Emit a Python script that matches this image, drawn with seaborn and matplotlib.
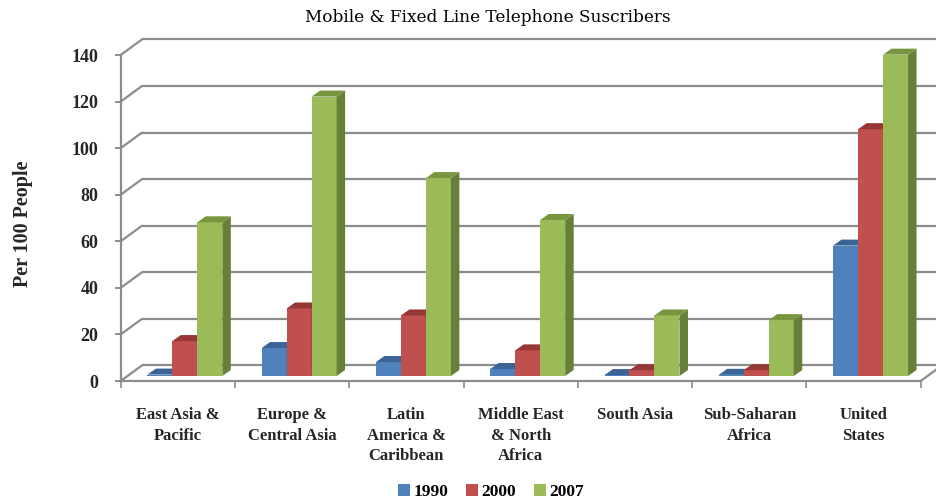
import numpy as np
import pandas as pd
import matplotlib
matplotlib.use("Agg")
import matplotlib.pyplot as plt
import seaborn as sns
from matplotlib.patches import Polygon, Patch
from matplotlib.lines import Line2D
from matplotlib.transforms import ScaledTranslation, IdentityTransform

# ---- data -------------------------------------------------------------
regions = [
    "East Asia &\nPacific",
    "Europe &\nCentral Asia",
    "Latin\nAmerica &\nCaribbean",
    "Middle East\n& North\nAfrica",
    "South Asia",
    "Sub-Saharan\nAfrica",
    "United\nStates",
]
years = ["1990", "2000", "2007"]
subs_1990 = [0.6, 12, 6, 3, 0.4, 0.5, 56]
subs_2000 = [15, 29, 26, 11, 2.5, 2.5, 106]
subs_2007 = [66, 120, 85, 67, 26, 24, 138]
y_ticks = [0, 20, 40, 60, 80, 100, 120, 140]

df = pd.DataFrame({
    "region": regions * 3,
    "year": np.repeat(years, len(regions)),
    "value": subs_1990 + subs_2000 + subs_2007,
})

# ---- style ------------------------------------------------------------
sns.set_theme(style="white")
plt.rcParams["font.family"] = ["Liberation Serif", "DejaVu Serif"]
plt.rcParams["text.color"] = "black"

front_col = ["#4F81BD", "#C0504D", "#9BBB59"]
top_col = ["#3B6395", "#953735", "#789640"]
side_col = ["#385D8A", "#8C3836", "#66803A"]
grid_col = "#8C8C8C"

W, H, DPI = 936, 503, 100
fig = plt.figure(figsize=(W / DPI, H / DPI), dpi=DPI)

# front plane of the 3-D box (pixels)
fx0, fx1 = 120.7, 920.7
fy0, fy1 = 381.0, 55.0
ax = fig.add_axes([fx0 / W, 1 - fy0 / H, (fx1 - fx0) / W, (fy0 - fy1) / H])

sns.barplot(
    data=df, x="region", y="value", hue="year",
    order=regions, hue_order=years, palette=front_col, saturation=1,
    width=0.656, errorbar=None, legend=False, linewidth=0, ax=ax,
)
ax.set_xlim(-0.5, len(regions) - 0.5)
ax.set_ylim(0, 140)

# depth offsets (pixels): wall depth and bar depth
wall_dx, wall_dy = 21.3, 15.6
bar_shift_dx, bar_shift_dy = 7.0, 5.0
bar_dx, bar_dy = 8.5, 6.0

wall_tr = ax.transData + ScaledTranslation(wall_dx / DPI, wall_dy / DPI, fig.dpi_scale_trans)
bar_tr = ax.transData + ScaledTranslation(bar_shift_dx / DPI, bar_shift_dy / DPI, fig.dpi_scale_trans)

# back wall gridlines
ax.hlines(y_ticks, -0.5, len(regions) - 0.5, transform=wall_tr, color=grid_col,
          lw=1.6, zorder=1, clip_on=False)

# side wall diagonals and floor corner
for v in y_ticks:
    px, py = ax.transData.transform((-0.5, v))
    ax.add_line(Line2D([px, px + wall_dx], [py, py + wall_dy], transform=IdentityTransform(),
                       color=grid_col, lw=1.6, zorder=1, clip_on=False))
px, py = ax.transData.transform((len(regions) - 0.5, 0))
ax.add_line(Line2D([px, px + wall_dx], [py, py + wall_dy], transform=IdentityTransform(),
                   color=grid_col, lw=1.6, zorder=1, clip_on=False))

# 3-D bars: shift the front faces back into the box, then add top and side faces
for k, cont in enumerate(ax.containers):
    for bar in cont:
        bar.set_transform(bar_tr)
        bar.set_zorder(3 + k)
        bar.set_clip_on(False)
        x, w, h = bar.get_x(), bar.get_width(), bar.get_height()
        (bx0, by0) = bar_tr.transform((x, 0))
        (bx1, by1) = bar_tr.transform((x + w, h))
        topf = [(bx0, by1), (bx1, by1), (bx1 + bar_dx, by1 + bar_dy), (bx0 + bar_dx, by1 + bar_dy)]
        sidef = [(bx1, by0), (bx1 + bar_dx, by0 + bar_dy), (bx1 + bar_dx, by1 + bar_dy), (bx1, by1)]
        for pts, c in ((sidef, side_col[k]), (topf, top_col[k])):
            ax.add_patch(Polygon(pts, closed=True, transform=IdentityTransform(), facecolor=c,
                                 edgecolor="none", zorder=3 + k, clip_on=False))

# axes, ticks and labels
for s in ("top", "right"):
    ax.spines[s].set_visible(False)
for s in ("left", "bottom"):
    ax.spines[s].set_color(grid_col)
    ax.spines[s].set_linewidth(1.6)
    ax.spines[s].set_zorder(2)

ax.set_yticks(y_ticks)
ax.set_yticklabels([str(t) for t in y_ticks], fontsize=13, fontweight="bold")
ax.tick_params(axis="y", direction="out", length=4, width=1.4, color=grid_col, pad=12, left=True)

ax.set_xticks(np.arange(-0.5, len(regions), 1.0), minor=True)
ax.tick_params(axis="x", which="minor", direction="out", length=5, width=1.2, color=grid_col, bottom=True)
ax.tick_params(axis="x", which="major", length=0, pad=19)
ax.set_xticklabels(regions, fontsize=12, fontweight="bold", linespacing=1.35, va="top")

ax.set_xlabel("")
ax.set_ylabel("Per 100 People", fontsize=14.5, fontweight="bold", labelpad=0)
ax.yaxis.set_label_coords((33 - fx0) / (fx1 - fx0), (fy0 - 224) / (fy0 - fy1))

fig.text(487.5 / W, 1 - 22.5 / H, "Mobile & Fixed Line Telephone Suscribers",
         ha="center", va="baseline", fontsize=12.2, family=["DejaVu Serif"])

handles = [Patch(facecolor=c, edgecolor="none") for c in front_col]
fig.legend(handles, years, loc="center", bbox_to_anchor=(491 / W, 1 - 492 / H), ncol=3,
           frameon=False, prop={"weight": "bold", "size": 12.5},
           handlelength=0.7, handleheight=0.7, handletextpad=0.2, columnspacing=1.0)

fig.savefig("out.png", dpi=DPI)
